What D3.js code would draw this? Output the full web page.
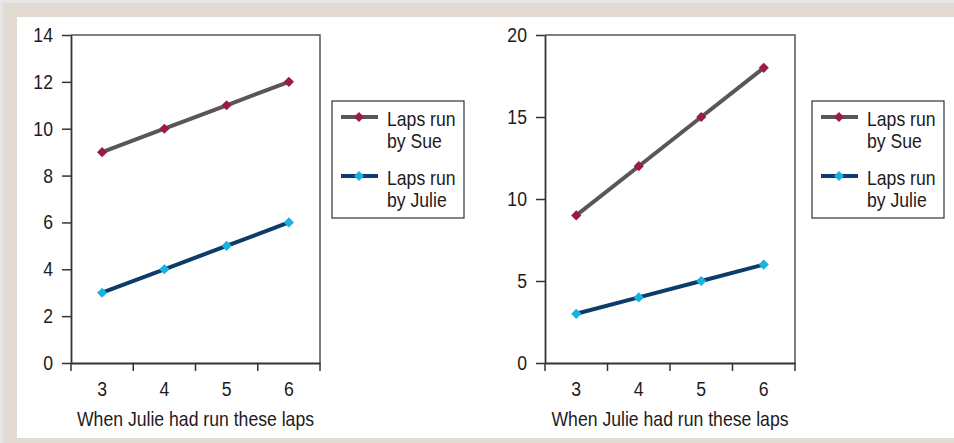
<!DOCTYPE html>
<html>
<head>
<meta charset="utf-8">
<script src="https://cdn.jsdelivr.net/npm/d3@7"></script>
<style>
  body { margin: 0; background: #e6e6e6; }
  svg { display: block; }
  text { font-family: "Liberation Sans", Arial, sans-serif; fill: #1e1b1c; }
</style>
</head>
<body>
<svg width="954" height="443"></svg>
<script>
// data
const laps = ['3', '4', '5', '6'];
const sueLeft = [9, 10, 11, 12];
const julieLeft = [3, 4, 5, 6];
const sueRight = [9, 12, 15, 18];
const julieRight = [3, 4, 5, 6];
const leftTicks = [0, 2, 4, 6, 8, 10, 12, 14];
const rightTicks = [0, 5, 10, 15, 20];
const legendNames = [['Laps run', 'by Sue'], ['Laps run', 'by Julie']];
const xTitle = 'When Julie had run these laps';

const svg = d3.select('svg');
const fs = 20.5, squeeze = 0.86;   // narrow look: scale text horizontally

// backdrop
svg.append('rect').attr('x', 3).attr('y', 3).attr('width', 951).attr('height', 440).attr('fill', '#e2dbd1');
svg.append('rect').attr('x', 17).attr('y', 17).attr('width', 937).attr('height', 421).attr('fill', '#fff');

const sueCol = {line: '#5b5556', mark: '#9a1a4a'},
    julieCol = {line: '#0b3c6a', mark: '#1bb0e2'};

// place a narrow text at (x, y)
function narrowText(sel, x, y, str, anchor) {
  return sel.append('text')
    .attr('transform', `translate(${x},${y}) scale(${squeeze},1)`)
    .attr('text-anchor', anchor || 'start')
    .attr('font-size', fs)
    .text(str);
}

function drawChart(left, right, yMax, yTicks, sue, julie, legX, legW) {
  const top = 35, bottom = 363;
  let g = svg.append('g');

  let x = d3.scaleBand().domain(laps).range([left, right]).padding(0),
      y = d3.scaleLinear().domain([0, yMax]).range([bottom, top]);

  // frame: top and right border
  g.append('path')
    .attr('d', `M${left},${top}H${right}V${bottom}`)
    .attr('fill', 'none').attr('stroke', '#555').attr('stroke-width', 1.5);

  let yAx = g.append('g')
    .attr('transform', `translate(${left},0)`)
    .call(d3.axisLeft(y).tickValues(yTicks).tickSize(9).tickSizeOuter(0).tickPadding(12));
  yAx.select('.domain').attr('stroke', '#333').attr('stroke-width', 1.8);
  yAx.selectAll('.tick line').attr('stroke', '#333').attr('stroke-width', 1.5);
  yAx.selectAll('text').attr('font-size', fs).attr('fill', '#1e1b1c')
    .attr('transform', `scale(${squeeze},1)`).style('font-family', null);

  let xAx = g.append('g')
    .attr('transform', `translate(0,${bottom})`)
    .call(d3.axisBottom(x).tickSize(0).tickSizeOuter(0).tickPadding(0));
  xAx.select('.domain').attr('stroke', '#333').attr('stroke-width', 1.8);
  xAx.selectAll('text').attr('font-size', fs).attr('fill', '#1e1b1c')
    .attr('dy', null).attr('y', 33)
    .attr('transform', `scale(${squeeze},1)`).style('font-family', null);

  // ticks at band edges
  let edges = laps.map(d => x(d)).concat([right]);
  g.selectAll('.edge').data(edges).enter().append('line')
    .attr('x1', d => d).attr('x2', d => d)
    .attr('y1', bottom).attr('y2', bottom + 8)
    .attr('stroke', '#333').attr('stroke-width', 1.5);

  narrowText(g, (left + right) / 2, 426, xTitle, 'middle');

  const line = d3.line()
    .x((d, i) => x(laps[i]) + x.bandwidth() / 2)
    .y(d => y(d));
  const diamond = d3.symbol().type(d3.symbolDiamond2).size(66);

  [[sue, sueCol], [julie, julieCol]].forEach(([vals, col]) => {
    g.append('path').attr('d', line(vals))
      .attr('fill', 'none').attr('stroke', col.line).attr('stroke-width', 4);
    g.selectAll(null).data(vals).enter().append('path')
      .attr('d', diamond)
      .attr('transform', (d, i) => `translate(${x(laps[i]) + x.bandwidth() / 2},${y(d)})`)
      .attr('fill', col.mark);
  });

  // legend
  let leg = svg.append('g');
  leg.append('rect')
    .attr('x', legX).attr('y', 101).attr('width', legW).attr('height', 117)
    .attr('fill', '#fff').attr('stroke', '#333').attr('stroke-width', 1.2);
  [sueCol, julieCol].forEach((col, i) => {
    let ly = 117 + i * 59;
    leg.append('line')
      .attr('x1', legX + 9).attr('x2', legX + 46).attr('y1', ly).attr('y2', ly)
      .attr('stroke', col.line).attr('stroke-width', 4);
    leg.append('path').attr('d', diamond)
      .attr('transform', `translate(${legX + 27},${ly})`).attr('fill', col.mark);
    legendNames[i].forEach((t, j) => {
      narrowText(leg, legX + 55, ly + 9 + j * 22, t);
    });
  });
}

drawChart(71, 320, 14, leftTicks, sueLeft, julieLeft, 332, 132);
drawChart(545, 795, 20, rightTicks, sueRight, julieRight, 812, 132);
</script>
</body>
</html>
